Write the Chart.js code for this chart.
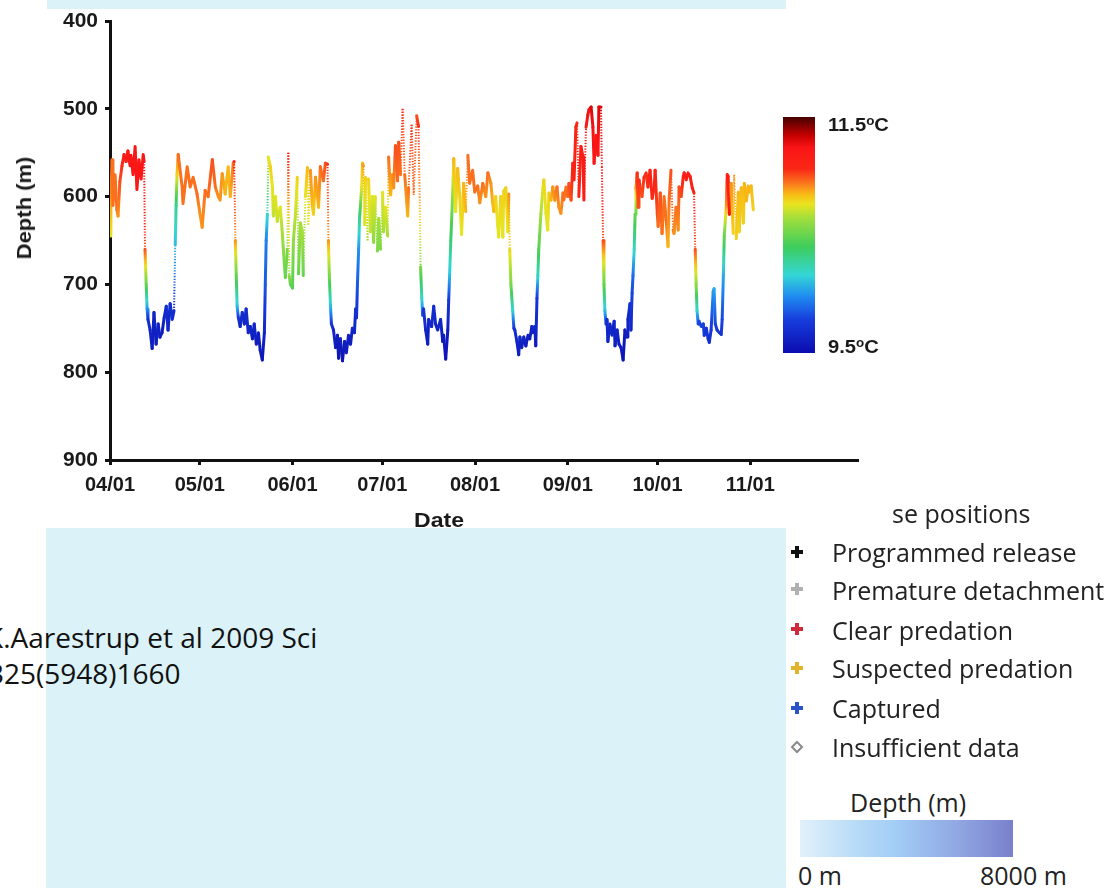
<!DOCTYPE html>
<html><head><meta charset="utf-8">
<script src="https://cdn.jsdelivr.net/npm/chart.js@4.4.1/dist/chart.umd.min.js"></script>
<style>
html,body{margin:0;padding:0;background:#fff;width:1119px;height:888px;overflow:hidden;position:relative}
.blue{position:absolute;background:#daf2f8}
#wrap{position:absolute;left:0;top:0;width:900px;height:528px;z-index:2}
.t{position:absolute;white-space:nowrap;z-index:3}
.ax{font-family:"Liberation Sans",Arial,sans-serif;font-weight:bold;color:#1a1a1a;line-height:1}
.cb{font-family:"Liberation Sans",Arial,sans-serif;font-weight:bold;color:#1a1a1a;font-size:18px;line-height:20px;transform:scaleX(1.12);transform-origin:left center}
.cb sup{font-size:12px;vertical-align:6px;line-height:0}
.cite{font-family:"Open Sans",sans-serif;font-size:28px;line-height:36px;color:#111}
.lg{font-family:"Open Sans",sans-serif;font-size:25px;line-height:30px;color:#222}
.mk{position:absolute;z-index:3}
</style></head><body>
<div class="blue" style="left:47px;top:0;width:739px;height:9px"></div>
<div class="blue" style="left:46px;top:528px;width:740px;height:360px"></div>
<div id="wrap"><canvas id="c" width="900" height="528"></canvas></div>

<div class="t ax" style="left:24px;top:208px;font-size:20px;transform:translate(-50%,-50%) rotate(-90deg) scaleX(1.1)">Depth (m)</div>
<div class="t ax" style="left:439px;top:519px;font-size:21px;transform:translate(-50%,-50%) scaleX(1.1)">Date</div>
<div class="t cb" style="left:828px;top:115px">11.5<sup>o</sup>C</div>
<div class="t cb" style="left:828px;top:337px">9.5<sup>o</sup>C</div>

<div class="t cite" style="left:-14px;top:619px">K.Aarestrup et al 2009 Sci</div>
<div class="t cite" style="left:-12px;top:655px">325(5948)1660</div>

<div class="t lg" style="left:892px;top:498px">se positions</div>
<div class="t lg" style="left:832px;top:537px">Programmed release</div>
<div class="t lg" style="left:832px;top:575px">Premature detachment</div>
<div class="t lg" style="left:832px;top:615px">Clear predation</div>
<div class="t lg" style="left:832px;top:653px">Suspected predation</div>
<div class="t lg" style="left:832px;top:693px">Captured</div>
<div class="t lg" style="left:832px;top:732px">Insufficient data</div>
<div class="t lg" style="left:850px;top:787px">Depth (m)</div>
<div class="t lg" style="left:798px;top:860px">0 m</div>
<div class="t lg" style="left:980px;top:860px">8000 m</div>
<div class="mk" style="left:800px;top:820px;width:213px;height:37px;background:linear-gradient(to right,#e2f1fa 0%,#b9dcf7 25%,#a2cdf5 45%,#8fa6e2 75%,#7a80cc 100%)"></div>

<svg class="mk" style="left:789px;top:540px" width="16" height="220" viewBox="0 0 16 220">
  <g transform="translate(8,12)"><rect x="-6" y="-2" width="12" height="4" fill="#111"/><rect x="-2" y="-6" width="4" height="12" fill="#111"/></g>
  <g transform="translate(8,49)"><rect x="-6" y="-2" width="12" height="4" fill="#b0b0b0"/><rect x="-2" y="-6" width="4" height="12" fill="#b0b0b0"/></g>
  <g transform="translate(8,89)"><rect x="-6" y="-2" width="12" height="4" fill="#d02a3c"/><rect x="-2" y="-6" width="4" height="12" fill="#d02a3c"/></g>
  <g transform="translate(8,128)"><rect x="-6" y="-2" width="12" height="4" fill="#e3b42a"/><rect x="-2" y="-6" width="4" height="12" fill="#e3b42a"/></g>
  <g transform="translate(8,168)"><rect x="-6" y="-2" width="12" height="4" fill="#2a55c8"/><rect x="-2" y="-6" width="4" height="12" fill="#2a55c8"/></g>
  <g transform="translate(8,207)"><path d="M0,-5 L5,0 L0,5 L-5,0 Z" fill="none" stroke="#8a8a8a" stroke-width="2"/></g>
</svg>

<script>
// ---- data (day offset from 04/01, depth in m, temperature in °C) ----
const days = [
0.0,0.3,0.7,1.0,1.7,2.3,2.7,3.3,4.0,4.7,5.4,6.0,6.7,7.0,7.7,8.4,9.0,9.7,10.4,11.1,11.4,11.7,12.1,12.4,12.7,
13.4,14.1,14.7,15.4,16.1,16.7,17.4,18.1,18.8,19.4,20.1,20.8,21.4,21.8,22.1,22.4,22.8,
24.1,24.4,25.8,26.8,27.8,29.1,30.1,30.8,31.8,32.8,34.2,35.2,36.2,36.8,37.5,38.5,39.5,40.2,41.2,41.5,41.9,42.2,42.5,42.9,
43.5,44.2,44.9,45.5,46.2,46.9,47.6,48.2,48.9,49.6,50.2,50.9,51.6,51.9,52.2,52.6,52.9,
53.6,54.3,54.6,55.3,55.9,56.9,57.6,57.9,58.6,59.3,59.6,59.9,60.3,61.0,61.3,62.0,62.6,63.0,63.6,64.3,64.6,65.3,66.0,66.3,67.0,67.6,68.0,68.7,69.7,70.3,71.3,72.0,72.7,73.0,73.3,73.7,74.0,
74.7,75.4,76.0,76.4,77.0,77.7,78.4,79.0,79.7,80.4,81.0,81.7,82.1,82.4,82.7,83.1,83.4,84.1,84.4,
84.7,85.1,85.4,86.1,86.4,87.1,87.7,88.1,88.7,89.4,89.8,90.4,91.1,91.4,92.1,92.8,93.1,93.8,94.4,94.8,95.4,96.1,96.5,97.1,97.8,98.5,99.5,99.8,100.8,101.5,102.5,103.1,103.5,103.8,104.2,104.5,
104.8,105.5,106.2,106.5,107.5,108.2,108.8,109.5,110.5,111.2,111.5,112.2,112.9,113.2,113.5,113.9,114.5,114.9,
115.5,116.2,116.9,117.5,118.2,118.9,119.6,120.2,121.2,121.9,122.9,123.6,124.6,125.6,126.3,127.3,127.9,128.3,128.9,129.6,129.9,130.6,131.3,131.6,132.3,133.0,133.3,133.6,134.0,134.6,135.0,
135.3,136.0,136.6,137.0,137.6,138.3,139.0,139.7,140.3,141.0,141.3,142.0,142.3,142.7,143.0,143.3,144.0,144.7,
145.0,145.7,146.3,146.7,147.4,148.0,148.7,149.4,150.0,150.7,151.4,151.7,152.4,153.0,153.4,154.1,154.7,155.1,155.7,156.1,156.7,157.4,158.1,158.4,159.1,159.7,160.1,160.8,161.4,161.8,162.4,163.1,163.4,164.1,164.4,164.8,165.1,165.4,165.8,
166.1,166.4,167.1,167.8,168.5,168.8,169.5,170.1,170.8,171.5,172.1,172.8,173.1,173.8,174.1,174.5,174.8,175.2,175.5,175.8,176.2,
176.5,176.8,177.8,178.5,179.2,179.8,180.5,181.2,181.9,182.2,182.9,183.2,183.9,184.5,185.2,185.9,186.5,186.9,187.5,188.2,188.5,189.2,189.9,190.2,190.9,191.6,191.9,192.6,193.2,193.9,194.6,195.2,195.6,195.9,196.2,196.6,
196.9,197.6,198.3,198.6,199.3,199.9,200.3,200.9,201.6,201.9,202.3,202.9,203.6,204.3,204.6,205.0,205.3,206.0,206.3,
206.6,207.0,207.6,208.3,208.6,209.3,210.0,210.3,211.0,211.7,212.0,212.7,213.3,213.7,214.3,215.0
];
const depths = [
645,600,558,610,575,615,622,583,565,552,560,548,565,553,575,543,592,558,580,552,560,660,700,728,740,
752,773,732,768,745,760,755,738,725,752,722,740,730,655,610,575,552,
589,608,566,589,578,597,620,635,593,600,558,589,600,604,574,597,566,600,562,560,650,690,725,738,
748,732,745,728,755,748,762,745,768,755,775,786,755,700,650,620,555,
566,590,622,600,628,612,642,658,692,660,550,690,700,704,650,620,578,688,630,640,690,600,567,632,570,610,620,578,612,566,582,562,563,650,690,725,745,
752,772,758,784,762,787,765,778,758,768,750,755,728,738,700,660,625,590,562,
565,632,578,650,580,640,600,652,600,662,625,660,595,640,612,645,555,598,575,590,542,582,538,575,500,575,622,590,518,598,508,520,600,680,715,735,
728,752,768,740,748,725,745,752,740,765,758,785,752,718,690,650,600,557,
617,568,600,643,585,617,553,585,570,595,588,607,585,600,573,585,607,617,600,633,646,600,646,594,590,640,597,660,700,730,750,
752,765,780,760,772,760,770,758,762,748,755,748,770,716,690,660,620,590,
581,619,638,596,604,589,604,589,612,619,596,604,589,600,585,604,562,581,521,516,600,543,555,604,521,507,501,498,521,562,530,553,498,498,566,650,700,730,745,
740,765,745,758,742,770,752,768,772,786,752,760,740,722,752,710,690,660,620,590,573,
612,581,600,578,573,589,570,602,589,570,619,634,596,642,600,627,657,602,570,638,642,612,638,589,600,577,573,581,573,577,590,596,660,700,730,745,
742,748,745,758,750,762,766,752,708,705,745,752,755,757,740,690,645,610,575,
577,620,585,642,575,648,595,640,590,630,585,605,588,595,588,615
];
const temps = [
10.75,10.9,10.95,10.95,10.95,10.95,10.9,11.0,11.05,11.15,11.15,11.2,11.2,11.2,11.2,11.2,11.2,11.2,11.2,11.2,11.2,11.0,10.5,10.0,9.7,
9.65,9.6,9.65,9.6,9.65,9.6,9.6,9.65,9.7,9.65,9.7,9.7,9.7,10.1,10.3,10.8,10.95,
10.95,10.95,10.95,10.95,10.95,10.95,10.9,10.9,10.95,10.95,11.0,10.95,10.9,10.9,10.9,10.85,10.85,10.85,10.95,11.1,10.9,10.5,10.1,9.75,
9.65,9.7,9.65,9.7,9.65,9.65,9.6,9.65,9.6,9.6,9.6,9.55,9.65,9.85,9.95,10.2,10.75,
10.8,10.75,10.7,10.75,10.7,10.75,10.65,10.6,10.5,10.55,11.1,10.6,10.5,10.45,10.6,10.7,10.8,10.5,10.65,10.65,10.5,10.75,10.85,10.75,10.9,10.85,10.8,10.9,10.85,10.95,10.95,11.0,11.05,10.9,10.55,10.1,9.75,
9.65,9.6,9.6,9.55,9.6,9.55,9.6,9.6,9.6,9.6,9.65,9.65,9.7,9.7,9.85,10.0,10.3,10.75,10.85,
10.9,10.75,10.8,10.65,10.8,10.7,10.75,10.6,10.75,10.55,10.65,10.55,10.75,10.65,10.75,10.65,10.95,10.85,10.9,10.9,11.0,10.95,11.0,10.95,11.05,10.95,10.85,10.95,11.05,10.95,11.0,11.05,10.9,10.55,10.2,9.85,
9.75,9.65,9.6,9.65,9.65,9.7,9.65,9.65,9.65,9.6,9.6,9.55,9.6,9.75,10.1,10.35,10.6,10.85,
10.75,10.85,10.8,10.75,10.85,10.85,10.95,10.95,10.95,10.95,10.95,10.9,10.95,10.9,10.95,10.9,10.85,10.85,10.8,10.75,10.75,10.8,10.75,10.8,10.8,10.75,10.9,10.8,10.55,10.15,9.75,
9.7,9.65,9.6,9.65,9.6,9.65,9.6,9.6,9.6,9.65,9.65,9.65,9.6,9.75,10.2,10.45,10.65,10.75,
10.8,10.75,10.75,10.8,10.85,10.9,10.9,10.95,10.9,10.9,10.95,10.95,10.95,10.95,11.0,11.0,11.1,11.1,11.1,11.05,11.1,11.15,11.15,11.15,11.2,11.25,11.25,11.3,11.25,11.2,11.2,11.2,11.3,11.3,11.2,11.0,10.5,10.1,9.75,
9.7,9.65,9.65,9.65,9.65,9.6,9.65,9.6,9.6,9.55,9.6,9.6,9.65,9.7,9.65,9.8,9.9,10.2,10.5,10.9,11.05,
11.0,11.05,11.0,11.05,11.05,11.05,11.1,11.05,11.1,11.1,11.0,10.95,11.0,10.95,10.95,10.95,10.85,10.95,11.0,10.95,10.9,10.95,10.9,11.0,11.0,11.1,11.15,11.15,11.15,11.15,11.1,11.1,11.0,10.6,10.15,9.8,
9.8,9.8,9.8,9.75,9.75,9.7,9.7,9.75,10.0,10.05,9.8,9.75,9.75,9.75,9.8,10.05,10.5,10.9,11.1,
11.15,11.25,10.9,10.8,10.9,10.8,10.85,10.8,10.85,10.8,10.85,10.85,10.85,10.85,10.85,10.8
];
const monthTicks = [0,30,61,91,122,153,183,214];
const monthLabels = ['04/01','05/01','06/01','07/01','08/01','09/01','10/01','11/01'];
const depthTicks = [400,500,600,700,800,900];
const tempMin = 9.5, tempMax = 11.5;

// jet-like colour scale (fraction from warm end -> colour)
const colorStops = [
 [0.00,[70,0,0]],[0.08,[200,0,0]],[0.13,[250,20,22]],[0.22,[250,40,22]],
 [0.28,[250,118,30]],[0.33,[248,190,22]],[0.37,[232,228,32]],[0.43,[160,222,60]],
 [0.55,[62,205,92]],[0.67,[52,214,214]],[0.76,[32,140,240]],[0.86,[22,60,220]],[1.00,[12,12,175]]
];
function rgbStr(c){return 'rgb('+c.map(v=>Math.round(v)).join(',')+')';}
function tempColor(t){
  let f=(tempMax-t)/(tempMax-tempMin); f=Math.max(0,Math.min(1,f));
  for(let i=1;i<colorStops.length;i++){
    if(f<=colorStops[i][0]){
      const a=colorStops[i-1], b=colorStops[i];
      const k=(f-a[0])/(b[0]-a[0]);
      return rgbStr(a[1].map((v,j)=>v+(b[1][j]-v)*k));
    }
  }
  return rgbStr(colorStops[colorStops.length-1][1]);
}
function steep(c){return Math.abs(depths[c.p1DataIndex]-depths[c.p0DataIndex])>60;}
function segColor(c){
  const t0=temps[c.p0DataIndex], t1=temps[c.p1DataIndex];
  const p0=c.p0, p1=c.p1;
  if(Math.abs(t0-t1)<0.03 || Math.hypot(p1.x-p0.x,p1.y-p0.y)<0.5) return tempColor((t0+t1)/2);
  const g=c.chart.ctx.createLinearGradient(p0.x,p0.y,p1.x,p1.y);
  for(let k=0;k<=6;k++){const f=k/6; g.addColorStop(f,tempColor(t0+(t1-t0)*f));}
  return g;
}

const colorbar = {
  id:'colorbar',
  afterDraw(chart){
    const ctx=chart.ctx, x0=783, x1=815, y0=117, y1=353;
    const g=ctx.createLinearGradient(0,y0,0,y1);
    colorStops.forEach(s=>g.addColorStop(s[0],rgbStr(s[1])));
    ctx.save(); ctx.fillStyle=g; ctx.fillRect(x0,y0,x1-x0,y1-y0); ctx.restore();
  }
};

const pts = days.map((d,i)=>({x:d,y:depths[i]}));
new Chart(document.getElementById('c'),{
  type:'line',
  data:{datasets:[{
    data:pts, pointRadius:0, borderWidth:3, tension:0, fill:false,
    borderJoinStyle:'round', borderCapStyle:'round', borderColor:'#f00',
    segment:{
      borderColor:segColor,
      borderDash:c=>steep(c)?[1.3,1.5]:[],
      borderWidth:c=>steep(c)?2:3,
      borderCapStyle:c=>steep(c)?'butt':'round'
    }
  }]},
  options:{
    responsive:false, animation:false, events:[],
    layout:{padding:{top:21,right:42,left:0,bottom:0}},
    plugins:{legend:{display:false},tooltip:{enabled:false}},
    scales:{
      x:{type:'linear',min:0,max:250,
        afterBuildTicks:s=>{s.ticks=monthTicks.map(v=>({value:v}));},
        afterFit:s=>{s.height=68;},
        ticks:{callback:(v,i)=>monthLabels[i],autoSkip:false,maxRotation:0,padding:8,color:'#1a1a1a',
          font:{family:'"Liberation Sans", Arial, sans-serif',weight:'bold',size:20}},
        grid:{drawOnChartArea:false,drawTicks:true,tickLength:5,tickWidth:3,color:'#111'},
        border:{display:true,color:'#111',width:3}
      },
      y:{type:'linear',reverse:true,min:400,max:900,
        afterBuildTicks:s=>{s.ticks=depthTicks.map(v=>({value:v}));},
        afterFit:s=>{s.width=110;},
        ticks:{padding:7,color:'#1a1a1a',
          font:{family:'"Liberation Sans", Arial, sans-serif',weight:'bold',size:21}},
        grid:{drawOnChartArea:false,drawTicks:true,tickLength:5,tickWidth:3,color:'#111'},
        border:{display:true,color:'#111',width:3}
      }
    }
  },
  plugins:[colorbar]
});
</script>
</body></html>
